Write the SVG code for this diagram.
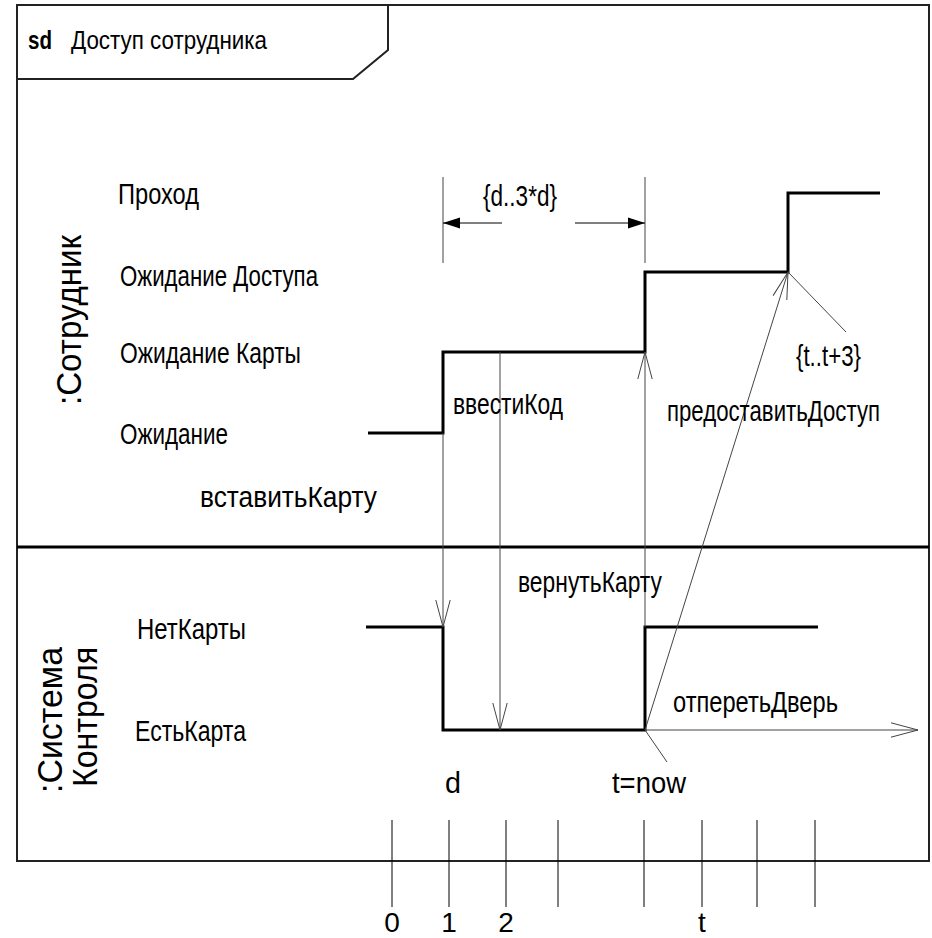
<svg xmlns="http://www.w3.org/2000/svg" width="932" height="938" viewBox="0 0 932 938">
  <defs>
    <style>
      text { font-family: "Liberation Sans", Arial, sans-serif; fill: #000; }
      .hdr { font-size: 25px; }
      .lbl { font-size: 29px; }
      .lane { font-size: 35px; }
      .tick-lbl { font-size: 28px; text-anchor: middle; }
      .frame { fill: none; stroke: #222; stroke-width: 2; }
      .state { fill: none; stroke: #000; stroke-width: 3; stroke-linejoin: miter; }
      .msg { fill: none; stroke: #444; stroke-width: 1; }
      .tick { stroke: #000; stroke-width: 1; }
    </style>
    <marker id="open" markerUnits="userSpaceOnUse" viewBox="-29 -9 31 18" refX="0" refY="0" markerWidth="31" markerHeight="18" orient="auto">
      <path d="M-27,-7.2 L0,0 L-27,7.2" fill="none" stroke="#444" stroke-width="1"/>
    </marker>
    <marker id="solid" markerUnits="userSpaceOnUse" viewBox="-18 -6 19 12" refX="0" refY="0" markerWidth="19" markerHeight="12" orient="auto">
      <path d="M-17,-5.5 L0,0 L-17,5.5 Z" fill="#000"/>
    </marker>
  </defs>

  <rect width="932" height="938" fill="#fff"/>

  <!-- frame with sd header -->
  <g id="frame">
    <rect class="frame" x="17" y="5" width="912" height="856"/>
    <path class="frame" d="M17,79 H353 L388,50 V5"/>
    <text class="hdr" x="28" y="49" font-weight="bold" textLength="24" lengthAdjust="spacingAndGlyphs">sd</text>
    <text class="hdr" x="71" y="49" textLength="196" lengthAdjust="spacingAndGlyphs">Доступ сотрудника</text>
  </g>

  <!-- lifeline: employee -->
  <g id="lane-employee">
    <text class="lane" transform="translate(81,405) rotate(-90)" textLength="170" lengthAdjust="spacingAndGlyphs">:Сотрудник</text>
    <text class="lbl" x="118" y="204" textLength="81" lengthAdjust="spacingAndGlyphs">Проход</text>
    <text class="lbl" x="120" y="286" textLength="198" lengthAdjust="spacingAndGlyphs">Ожидание Доступа</text>
    <text class="lbl" x="120" y="363" textLength="181" lengthAdjust="spacingAndGlyphs">Ожидание Карты</text>
    <text class="lbl" x="120" y="444" textLength="108" lengthAdjust="spacingAndGlyphs">Ожидание</text>
    <path class="state" d="M368,433 H443 V352 H645 V272 H788 V193 H880"/>
  </g>

  <!-- lane separator -->
  <line x1="17" y1="547" x2="929" y2="547" stroke="#000" stroke-width="3"/>

  <!-- lifeline: access control system -->
  <g id="lane-system">
    <text class="lane" transform="translate(62,793) rotate(-90)" textLength="146" lengthAdjust="spacingAndGlyphs">:Система</text>
    <text class="lane" transform="translate(97,787) rotate(-90)" textLength="140" lengthAdjust="spacingAndGlyphs">Контроля</text>
    <text class="lbl" x="137" y="639" textLength="109" lengthAdjust="spacingAndGlyphs">НетКарты</text>
    <text class="lbl" x="135" y="741" textLength="111" lengthAdjust="spacingAndGlyphs">ЕстьКарта</text>
    <path class="state" d="M366,627 H443 V730 H645 V627 H818"/>
  </g>

  <!-- duration constraint {d..3*d} -->
  <g id="duration-constraint">
    <line class="msg" x1="443" y1="177" x2="443" y2="263"/>
    <line class="msg" x1="645" y1="177" x2="645" y2="263"/>
    <line x1="502" y1="223" x2="443" y2="223" stroke="#000" stroke-width="1" marker-end="url(#solid)"/>
    <line x1="575" y1="223" x2="645" y2="223" stroke="#000" stroke-width="1" marker-end="url(#solid)"/>
    <text class="lbl" x="483" y="206" textLength="74" lengthAdjust="spacingAndGlyphs">{d..3*d}</text>
  </g>

  <!-- messages -->
  <g id="connectors">
    <path class="msg" d="M443,433 V627" marker-end="url(#open)"/>
    <path class="msg" d="M500,352 V730" marker-end="url(#open)"/>
    <path class="msg" d="M645,627 V352" marker-end="url(#open)"/>
    <path class="msg" d="M645,730 L788,272" marker-end="url(#open)"/>
    <path class="msg" d="M645,730 H918" marker-end="url(#open)"/>
    <path class="msg" d="M645,730 L667,762"/>
    <path class="msg" d="M788,272 L846,332"/>
  </g>

  <!-- message and constraint labels -->
  <g id="labels">
    <text class="lbl" x="200" y="507" textLength="177" lengthAdjust="spacingAndGlyphs">вставитьКарту</text>
    <text class="lbl" x="453" y="414" textLength="110" lengthAdjust="spacingAndGlyphs">ввестиКод</text>
    <text class="lbl" x="518" y="592" textLength="144" lengthAdjust="spacingAndGlyphs">вернутьКарту</text>
    <text class="lbl" x="667" y="421" textLength="213" lengthAdjust="spacingAndGlyphs">предоставитьДоступ</text>
    <text class="lbl" x="796" y="366" textLength="65" lengthAdjust="spacingAndGlyphs">{t..t+3}</text>
    <text class="lbl" x="673" y="712" textLength="165" lengthAdjust="spacingAndGlyphs">отперетьДверь</text>
    <text class="lbl" x="445" y="793" textLength="16" lengthAdjust="spacingAndGlyphs">d</text>
    <text class="lbl" x="612" y="793" textLength="74" lengthAdjust="spacingAndGlyphs">t=now</text>
  </g>

  <!-- time ruler -->
  <g id="time-ruler">
    <line class="tick" x1="392" y1="820" x2="392" y2="907"/>
    <line class="tick" x1="449" y1="820" x2="449" y2="907"/>
    <line class="tick" x1="506" y1="820" x2="506" y2="907"/>
    <line class="tick" x1="558" y1="820" x2="558" y2="907"/>
    <line class="tick" x1="644" y1="820" x2="644" y2="907"/>
    <line class="tick" x1="702" y1="820" x2="702" y2="907"/>
    <line class="tick" x1="757" y1="820" x2="757" y2="907"/>
    <line class="tick" x1="815" y1="820" x2="815" y2="907"/>
    <text class="tick-lbl" x="392" y="932">0</text>
    <text class="tick-lbl" x="449" y="932">1</text>
    <text class="tick-lbl" x="506" y="932">2</text>
    <text class="tick-lbl" x="702" y="932">t</text>
  </g>
</svg>
